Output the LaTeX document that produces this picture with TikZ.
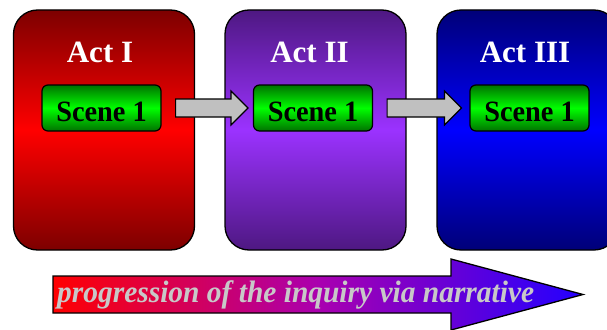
\documentclass[tikz,border=0pt]{standalone}
\usepackage{fontspec}
\setmainfont{Liberation Serif}
\newfontfamily\scenefont[FakeStretch=0.96]{Liberation Serif}
\newfontfamily\captionfont[FakeStretch=0.95]{Liberation Serif}
\usetikzlibrary{calc}

\definecolor{redDark}{RGB}{125,0,0}
\definecolor{redMid}{RGB}{255,0,0}
\definecolor{violetDark}{RGB}{78,24,130}
\definecolor{violetMid}{RGB}{155,50,255}
\definecolor{blueDark}{RGB}{0,0,120}
\definecolor{blueMid}{RGB}{0,0,255}
\definecolor{greenDark}{RGB}{0,115,0}
\definecolor{greenMid}{RGB}{0,255,0}
\definecolor{arrowGray}{RGB}{192,192,192}
\definecolor{bandLeft}{RGB}{255,0,0}
\definecolor{bandMid}{RGB}{170,0,175}
\definecolor{bandRight}{RGB}{35,0,255}
\definecolor{captionGray}{RGB}{200,200,200}

\tikzset{
  actbox/.style={draw=black, line width=1.3pt, rounded corners=24pt,
    minimum width=181pt, minimum height=240pt, inner sep=0pt},
  acttitle/.style={anchor=base, text=white, inner sep=0pt,
    font=\bfseries\fontsize{31}{31}\selectfont},
  scenebox/.style={draw=black, line width=1.2pt, rounded corners=6pt,
    minimum width=119pt, minimum height=46pt, inner sep=0pt,
    top color=greenDark, bottom color=greenDark, middle color=greenMid,
    text height=27pt, text depth=0pt,
    font=\scenefont\bfseries\fontsize{29.5}{29.5}\selectfont},
  flowarrow/.style={draw=black, line width=1.2pt, fill=arrowGray, line join=miter},
}

\begin{document}
\begin{tikzpicture}[x=1pt, y=-1pt]
\useasboundingbox (0,0) rectangle (607,329);
\clip (0,0) rectangle (607,329);

% the three acts
\node[actbox, top color=redDark, bottom color=redDark, middle color=redMid]
  (act1) at (104,130) {};
\node[actbox, top color=violetDark, bottom color=violetDark, middle color=violetMid]
  (act2) at (315.5,130) {};
\node[actbox, top color=blueDark, bottom color=blueDark, middle color=blueMid]
  (act3) at (527.5,130) {};

\node[acttitle] (t1) at (100,63) {Act I};
\node[acttitle] (t2) at (309.5,63) {Act II};
\node[acttitle] (t3) at (525,63) {Act III};

% one scene inside each act
\node[scenebox] (s1) at (101.5,108) {Scene 1};
\node[scenebox] (s2) at (313,108) {Scene 1};
\node[scenebox] (s3) at (529.5,108) {Scene 1};

% block arrows linking the scenes
\coordinate (a1s) at ($(s1.east)+(14,0)$);
\coordinate (a1e) at ($(s2.west)+(-5,0)$);
\coordinate (a2s) at ($(s2.east)+(14,0)$);
\coordinate (a2e) at ($(s3.west)+(-8,0)$);
\draw[flowarrow] ($(a1s)+(0,-9)$) -- ($(a1e)+(-17,-9)$) -- ($(a1e)+(-17,-17)$)
  -- (a1e) -- ($(a1e)+(-17,17)$) -- ($(a1e)+(-17,9)$) -- ($(a1s)+(0,9)$) -- cycle;
\draw[flowarrow] ($(a2s)+(0,-9)$) -- ($(a2e)+(-17,-9)$) -- ($(a2e)+(-17,-17)$)
  -- (a2e) -- ($(a2e)+(-17,17)$) -- ($(a2e)+(-17,9)$) -- ($(a2s)+(0,9)$) -- cycle;

% progression band along the bottom
\path[draw=black, line width=1.3pt, line join=miter,
      left color=bandLeft, right color=bandRight, middle color=bandMid]
  (53,276) -- (451,276) -- (451,259) -- (583,294.5) -- (451,330)
  -- (451,313) -- (53,313) -- cycle;
\node[anchor=base west, inner sep=0pt, text=captionGray,
      font=\captionfont\bfseries\itshape\fontsize{31}{31}\selectfont]
  (caption) at (57,302) {progression of the inquiry via narrative};
\end{tikzpicture}
\end{document}
